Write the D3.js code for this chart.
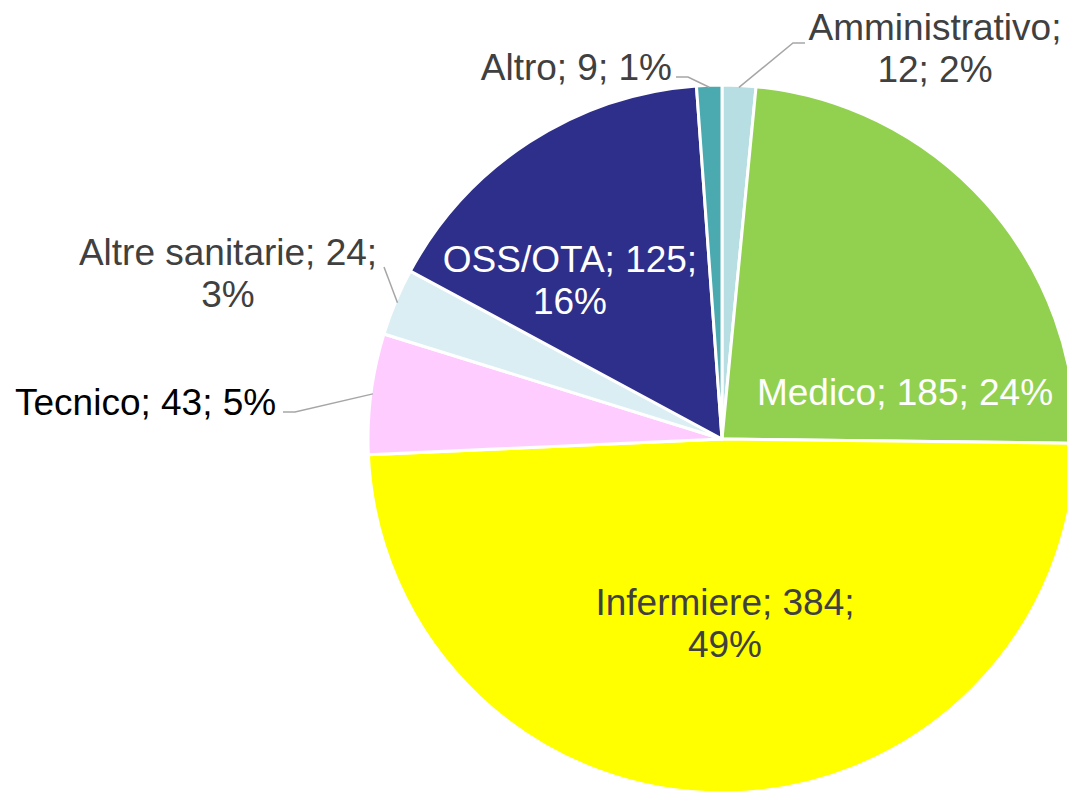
<!DOCTYPE html>
<html>
<head>
<meta charset="utf-8">
<script src="https://cdn.jsdelivr.net/npm/d3@7"></script>
<style>
  html, body { margin: 0; padding: 0; background: #fff; }
  svg { display: block; }
</style>
</head>
<body>
<svg id="chart"></svg>
<script>
// data, clockwise from 12 o'clock
const categories = ["Amministrativo", "Medico", "Infermiere", "Tecnico", "Altre sanitarie", "OSS/OTA", "Altro"];
const values = [12, 185, 384, 43, 24, 125, 9];
const colors = ["#b7dfe3", "#92d050", "#ffff00", "#ffccff", "#daeef3", "#2e2f8a", "#4aaab0"];

// label layout (text lines, anchor point, colour, leader elbow)
const labelLayout = [
  {lines: 2, split: 1, x: 935, y: 40, anchor: "middle", fill: "#404040", elbow: [[793, 43], [805, 43]]},
  {lines: 1, x: 905, y: 405, anchor: "middle", fill: "#ffffff"},
  {lines: 2, split: 2, x: 725, y: 615, anchor: "middle", fill: "#404040"},
  {lines: 1, x: 15, y: 415, anchor: "start", fill: "#000000", elbow: [[295, 412], [283, 412]]},
  {lines: 2, split: 2, x: 228, y: 265, anchor: "middle", fill: "#404040", elbow: [[384, 267]]},
  {lines: 2, split: 2, x: 570, y: 272, anchor: "middle", fill: "#ffffff"},
  {lines: 1, x: 672, y: 80, anchor: "end", fill: "#404040", elbow: [[688, 77], [676, 77]]}
];

const width = 1067, height = 794;
const cx = 722, cy = 439, radius = 354;
const fontSize = 37, lineGap = 42;

const total = d3.sum(values);
const pct = d3.format(".0%");

const svg = d3.select("#chart")
  .attr("width", width)
  .attr("height", height)
  .attr("viewBox", [0, 0, width, height]);

const pie = d3.pie().sort(null).value(i => values[i]);
const arcs = pie(d3.range(values.length));
const arc = d3.arc().innerRadius(0).outerRadius(radius);

const g = svg.append("g").attr("transform", `translate(${cx},${cy})`);

g.selectAll("path")
  .data(arcs)
  .join("path")
  .attr("d", arc)
  .attr("fill", d => colors[d.data])
  .attr("stroke", "#fff")
  .attr("stroke-width", 3)
  .attr("stroke-linejoin", "round");

// leader lines
arcs.forEach(d => {
  const L = labelLayout[d.data];
  if (!L.elbow) return;
  const a = (d.startAngle + d.endAngle) / 2;
  const p0 = [cx + Math.sin(a) * (radius - 2), cy - Math.cos(a) * (radius - 2)];
  const pts = [p0, ...L.elbow];
  svg.append("path")
    .attr("d", d3.line()(pts))
    .attr("fill", "none")
    .attr("stroke", "#a6a6a6")
    .attr("stroke-width", 1.5);
});

// labels
arcs.forEach(d => {
  const i = d.data;
  const L = labelLayout[i];
  const parts = [categories[i], values[i], pct(values[i] / total)];
  let rows;
  if (L.lines === 1) rows = [parts.join("; ")];
  else rows = [parts.slice(0, L.split).join("; ") + ";", parts.slice(L.split).join("; ")];
  const t = svg.append("text")
    .attr("font-family", "'Liberation Sans', Arial, sans-serif")
    .attr("font-size", fontSize)
    .attr("fill", L.fill)
    .attr("text-anchor", L.anchor);
  rows.forEach((r, k) => {
    t.append("tspan").attr("x", L.x).attr("y", L.y + k * lineGap).text(r);
  });
});
</script>
</body>
</html>
